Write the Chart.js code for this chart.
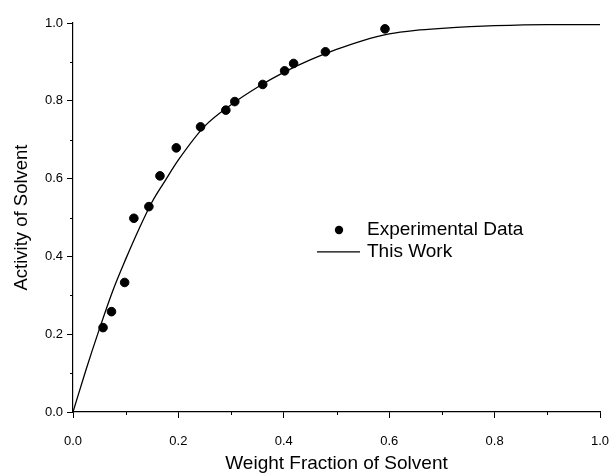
<!DOCTYPE html>
<html>
<head>
<meta charset="utf-8">
<script src="https://cdn.jsdelivr.net/npm/chart.js@4/dist/chart.umd.min.js"></script>
<style>
html,body{margin:0;padding:0;background:#fff;}
#wrap{width:612px;height:474px;}
</style>
</head>
<body>
<div id="wrap"><canvas id="c" width="612" height="474"></canvas></div>
<script>
// Experimental data (weight fraction, activity)
const expX = [0.057, 0.073, 0.098, 0.1155, 0.144, 0.165, 0.196, 0.242, 0.290, 0.307, 0.360, 0.4015, 0.4186, 0.479, 0.592];
const expY = [0.217, 0.258, 0.333, 0.498, 0.528, 0.607, 0.679, 0.733, 0.776, 0.798, 0.842, 0.877, 0.896, 0.926, 0.985];
// Model curve ("This Work")
const fitX = [0, 0.025, 0.05, 0.075, 0.1, 0.125, 0.15, 0.175, 0.2, 0.25, 0.3, 0.35, 0.4, 0.45, 0.5, 0.55, 0.6, 0.65, 0.7, 0.8, 0.9, 1.0];
const fitY = [0, 0.11, 0.213, 0.31, 0.393, 0.47, 0.54, 0.595, 0.648, 0.735, 0.79, 0.835, 0.873, 0.905, 0.932, 0.955, 0.972, 0.981, 0.986, 0.993, 0.996, 0.996];
const legendLabels = ['Experimental Data', 'This Work'];
const xTitle = 'Weight Fraction of Solvent';
const yTitle = 'Activity of Solvent';

const FONT = 'Liberation Sans, Arial, sans-serif';

const minorTicks = {
  id: 'minorTicks',
  afterDraw(chart) {
    const ctx = chart.ctx;
    const xs = chart.scales.x, ys = chart.scales.y;
    ctx.save();
    ctx.strokeStyle = '#000';
    ctx.lineWidth = 1;
    for (let v = 0.1; v < 1; v += 0.2) {
      const px = Math.round(xs.getPixelForValue(v)) + 0.5;
      ctx.beginPath(); ctx.moveTo(px, xs.top); ctx.lineTo(px, xs.top + 3); ctx.stroke();
      const py = Math.round(ys.getPixelForValue(v)) + 0.5;
      ctx.beginPath(); ctx.moveTo(ys.right, py); ctx.lineTo(ys.right - 3, py); ctx.stroke();
    }
    ctx.restore();
  }
};

const customLegend = {
  id: 'customLegend',
  afterDraw(chart) {
    const ctx = chart.ctx;
    const ca = chart.chartArea;
    const x0 = ca.left + 0.463 * (ca.right - ca.left);
    const y0 = ca.top + 0.532 * (ca.bottom - ca.top);
    ctx.save();
    ctx.fillStyle = '#000';
    ctx.strokeStyle = '#000';
    // marker
    ctx.beginPath(); ctx.arc(x0 + 22, y0, 4.2, 0, Math.PI * 2); ctx.fill();
    // line
    ctx.lineWidth = 1.2;
    ctx.beginPath(); ctx.moveTo(x0, y0 + 22); ctx.lineTo(x0 + 43, y0 + 22); ctx.stroke();
    ctx.font = '19px ' + FONT;
    ctx.textBaseline = 'middle';
    ctx.textAlign = 'left';
    ctx.fillText(legendLabels[0], x0 + 50, y0);
    ctx.fillText(legendLabels[1], x0 + 50, y0 + 22);
    ctx.restore();
  }
};

new Chart(document.getElementById('c'), {
  type: 'scatter',
  data: {
    datasets: [
      {
        label: legendLabels[0],
        data: expX.map((x, i) => ({x: x, y: expY[i]})),
        pointRadius: 4.3,
        pointBackgroundColor: '#000',
        pointBorderColor: '#000',
        showLine: false
      },
      {
        label: legendLabels[1],
        data: fitX.map((x, i) => ({x: x, y: fitY[i]})),
        showLine: true,
        pointRadius: 0,
        borderColor: '#000',
        borderWidth: 1.3,
        cubicInterpolationMode: 'monotone',
        fill: false
      }
    ]
  },
  options: {
    responsive: false,
    animation: false,
    devicePixelRatio: 1,
    layout: { padding: { top: 23, right: 12, left: 0, bottom: 0 } },
    plugins: { legend: { display: false }, tooltip: { enabled: false } },
    scales: {
      x: {
        type: 'linear', min: 0, max: 1,
        afterFit(s) { s.height = 62; s.paddingLeft = 0; s.paddingRight = 0; },
        border: { display: true, color: '#000', width: 1.2 },
        grid: { drawOnChartArea: false, tickLength: 6, color: '#000', tickColor: '#000' },
        ticks: {
          stepSize: 0.2, color: '#000', padding: 16,
          font: { family: FONT, size: 13 },
          callback: v => v.toFixed(1)
        },
        title: { display: true, text: xTitle, color: '#000', font: { family: FONT, size: 19 }, padding: { top: 0, bottom: -1.5 } }
      },
      y: {
        type: 'linear', min: 0, max: 1,
        afterFit(s) { s.width = 73; s.paddingTop = 0; s.paddingBottom = 0; },
        border: { display: true, color: '#000', width: 1.2 },
        grid: { drawOnChartArea: false, tickLength: 6, color: '#000', tickColor: '#000' },
        ticks: {
          stepSize: 0.2, color: '#000', padding: 4,
          font: { family: FONT, size: 13 },
          callback: v => v.toFixed(1)
        },
        title: { display: true, text: yTitle, color: '#000', font: { family: FONT, size: 18.5 }, padding: { top: 11, bottom: 0 } }
      }
    }
  },
  plugins: [minorTicks, customLegend]
});
</script>
</body>
</html>
